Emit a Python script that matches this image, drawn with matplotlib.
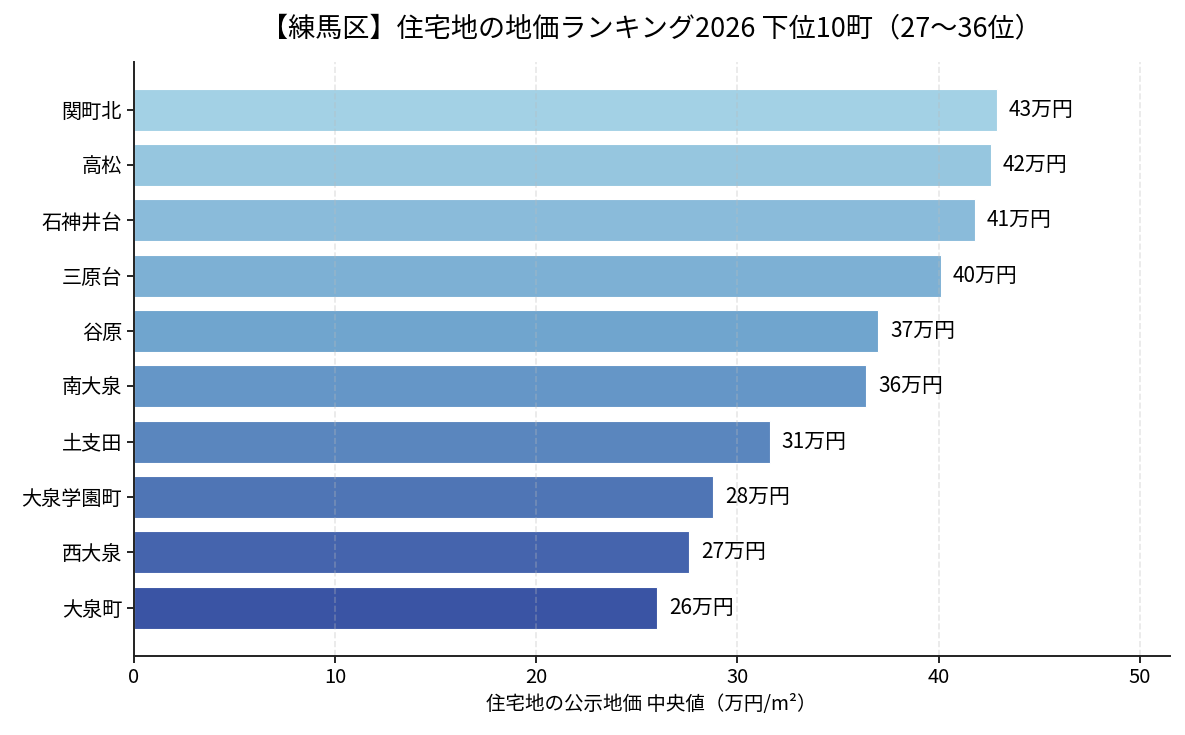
import numpy as np
import matplotlib.pyplot as plt
from matplotlib.colors import LinearSegmentedColormap

plt.rcParams['font.family'] = ['Noto Sans CJK JP', 'DejaVu Sans']

towns = ['関町北', '高松', '石神井台', '三原台', '谷原', '南大泉', '土支田', '大泉学園町', '西大泉', '大泉町']
prices = [42.9, 42.6, 41.8, 40.1, 37.0, 36.4, 31.6, 28.8, 27.6, 26.0]
labels = ['43万円', '42万円', '41万円', '40万円', '37万円', '36万円', '31万円', '28万円', '27万円', '26万円']

cmap = LinearSegmentedColormap.from_list('bl', ['#a3d1e5', '#6a9fcb', '#3a54a4'])
colors = [cmap(t) for t in np.linspace(0, 1, len(towns))]

fig, ax = plt.subplots(figsize=(11.85, 7.35), dpi=100)
fig.subplots_adjust(left=0.113, right=0.987, top=0.916, bottom=0.108)

y = np.arange(len(towns))
ax.barh(y, prices, height=0.76, color=colors, edgecolor='white', linewidth=0.8, zorder=2)
for yi, v, lab in zip(y, prices, labels):
    ax.text(v + 0.6, yi, lab, va='center', ha='left', fontsize=15, zorder=4)

ax.set_yticks(y)
ax.set_yticklabels(towns, fontsize=14.5)
ax.invert_yaxis()
ax.set_xlim(0, max(prices) * 1.2)
ax.set_xticks([0, 10, 20, 30, 40, 50])
ax.tick_params(axis='x', labelsize=14.5)
ax.tick_params(length=5, width=1.2)
ax.grid(axis='x', linestyle='--', color='#bbbbbb', linewidth=1.2, alpha=0.35, zorder=3)
ax.set_axisbelow(False)
for s in ['top', 'right']:
    ax.spines[s].set_visible(False)
for s in ['left', 'bottom']:
    ax.spines[s].set_linewidth(1.4)
    ax.spines[s].set_color('#222222')
    ax.spines[s].set_zorder(5)

ax.set_xlabel('住宅地の公示地価 中央値（万円/m²）', fontsize=14)
ax.set_title('【練馬区】住宅地の地価ランキング2026 下位10町（27〜36位）', fontsize=19.5, pad=18)

fig.savefig('out.png', dpi=100)
